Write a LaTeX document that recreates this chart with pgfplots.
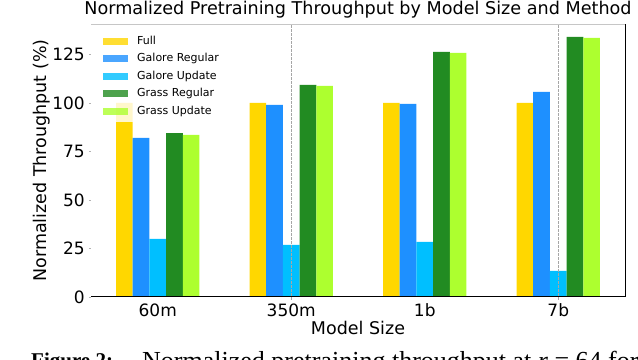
\documentclass[border=0pt]{standalone}
\usepackage{fontspec}
\setmainfont{DejaVu Sans}
\newfontfamily\capfont{Liberation Serif}
\usepackage{pgfplots}
\pgfplotsset{compat=1.18}
\definecolor{cFull}{HTML}{FFD700}
\definecolor{cGalReg}{HTML}{1E90FF}
\definecolor{cGalUpd}{HTML}{00BFFF}
\definecolor{cGrReg}{HTML}{228B22}
\definecolor{cGrUpd}{HTML}{ADFF2F}
\pgfplotsset{
  swatch/.style={legend image code/.code={\fill[##1,/tikz/.cd] (0bp,-3.5bp) rectangle (25bp,3.5bp);}},
}
\begin{document}
\begin{tikzpicture}
\path[use as bounding box] (0,0) rectangle (638bp,360bp);
\clip (0,0) rectangle (638bp,360bp);
\begin{axis}[
  at={(91bp,63bp)}, anchor=south west,
  scale only axis, width=534bp, height=273bp,
  ybar, bar width=0.125,
  xmin=-0.5, xmax=3.5, ymin=0, ymax=140.7,
  xtick={0,1,2,3}, xticklabels={60m,350m,1b,7b},
  ytick={0,25,50,75,100,125},
  axis line style={draw=none},
  xtick style={draw=none},
  ytick style={draw=gray!60},
  tick pos=left,
  tick align=outside, major tick length=2bp,
  /pgf/number format/assume math mode=true,
  tick label style={font=\fontsize{17bp}{20bp}\selectfont},
  xticklabel style={anchor=base, inner sep=0pt, yshift=-18bp},
  yticklabel style={anchor=east, inner sep=0pt, xshift=-4bp},
  title={Normalized Pretraining Throughput by Model Size and Method},
  title style={at={(axis description cs:0.5,1)}, anchor=base, inner sep=0pt, yshift=3.3bp, font=\fontsize{17.6bp}{20bp}\selectfont},
  xlabel={Model Size},
  xlabel style={at={(axis description cs:0.5,0)}, anchor=base, inner sep=0pt, yshift=-38bp, font=\fontsize{17.5bp}{20bp}\selectfont},
  ylabel={Normalized Throughput (\%)},
  ylabel style={at={([xshift=-49bp]axis description cs:0,0.5)}, anchor=center, inner sep=0pt, font=\fontsize{17.5bp}{20bp}\selectfont},
  legend style={at={(axis description cs:0.0112,0.978)}, anchor=north west,
    fill=white, fill opacity=0.8, text opacity=1, draw=none,
    inner sep=6bp, row sep=7.5bp, column sep=9bp,
    font=\fontsize{11bp}{13bp}\selectfont,
    nodes={inner sep=0pt, text height=8bp, text depth=2bp}},
  legend cell align=left,
  clip=false,
]
\addplot[fill=cFull, draw=none, bar shift=-0.25, swatch] coordinates {(0,100) (1,100) (2,100) (3,100)};
\addplot[fill=cGalReg, draw=none, bar shift=-0.125, swatch] coordinates {(0,82) (1,99) (2,99.5) (3,105.7)};
\addplot[fill=cGalUpd, draw=none, bar shift=0, swatch] coordinates {(0,30) (1,26.8) (2,28.4) (3,13.4)};
\addplot[fill=cGrReg, draw=none, bar shift=0.125, swatch] coordinates {(0,84.5) (1,109.3) (2,126.3) (3,134)};
\addplot[fill=cGrUpd, draw=none, bar shift=0.25, swatch] coordinates {(0,83.5) (1,108.8) (2,125.8) (3,133.5)};
\legend{Full, Galore Regular, Galore Update, Grass Regular, Grass Update}
% reference lines and frame
\draw[gray!70, line width=0.7bp, dash pattern=on 2.5bp off 1.5bp] (axis cs:1,-1.5) -- (axis cs:1,140.7);
\draw[gray!70, line width=0.7bp, dash pattern=on 2.5bp off 1.5bp] (axis cs:3,-1.5) -- (axis cs:3,140.7);
\draw[gray!45, line width=0.8bp] (rel axis cs:0,1) -- (rel axis cs:1,1);
\draw[black, line width=1bp] (rel axis cs:0,0) -- (rel axis cs:1,0) -- (rel axis cs:1,1);
\end{axis}
\node[anchor=base west, inner sep=0pt, font=\capfont\fontsize{21bp}{24bp}\selectfont\bfseries] at (31bp,-7bp) {Figure 2:};
\node[anchor=base west, inner sep=0pt, font=\capfont\fontsize{26bp}{28bp}\selectfont] at (142bp,-9.5bp) {Normalized pretraining throughput at \textit{r} = 64 for};
\end{tikzpicture}
\end{document}
